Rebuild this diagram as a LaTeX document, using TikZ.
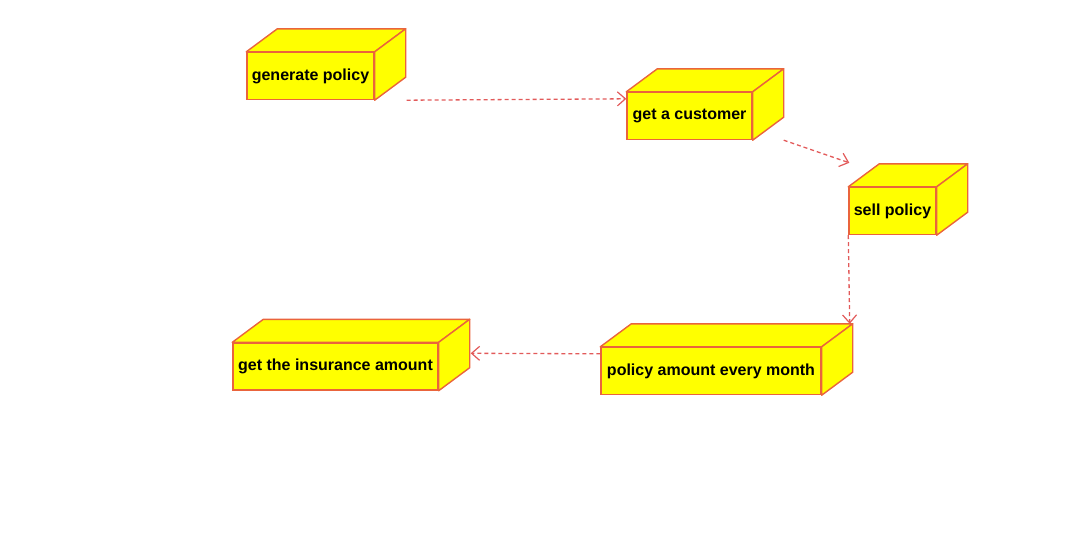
\documentclass[tikz,border=0pt]{standalone}
\usepackage{fontspec}
\setmainfont{Liberation Sans}
\usetikzlibrary{calc,arrows.meta}
\definecolor{boxedge}{RGB}{234,100,60}
\definecolor{boxfill}{RGB}{255,255,0}
\definecolor{depline}{RGB}{226,90,90}

\begin{document}
\begin{tikzpicture}[x=1pt,y=-1pt,
    device/.style={draw=boxedge,fill=boxfill,line width=1.4pt,inner sep=0pt,
        minimum height=47pt,font=\fontsize{16}{19}\selectfont\bfseries},
    face/.style={draw=boxedge,fill=boxfill,line width=1.4pt,line join=round},
    dep/.style={draw=depline,line width=1.3pt,dash pattern=on 4pt off 3pt,
        -{Straight Barb[length=8pt,width=14pt,line width=1.2pt]}}]
    \useasboundingbox (0,0) rectangle (1080,546);
    \node[device,minimum width=127pt](gp) at (310.5,76)  {generate policy};
    \node[device,minimum width=125pt](gc) at (689.5,116)  {get a customer};
    \node[device,minimum width=87pt](sp) at (892.5,211)  {sell policy};
    \node[device,minimum width=220pt](pa) at (711,371)  {policy amount every month};
    \node[device,minimum width=205pt](gi) at (335.5,366.5)  {get the insurance amount};
    \foreach \n in {gp,gc,sp,pa,gi} {
        \path[face] (\n.north west) -- ($(\n.north west)+(31,-23)$) -- ($(\n.north east)+(31,-23)$) -- (\n.north east) -- cycle;
        \path[face] (\n.north east) -- ($(\n.north east)+(31,-23)$) -- ($(\n.south east)+(31,-23)$) -- (\n.south east) -- cycle;
    }
    \draw[dep] ($(gp.south east)+(32,0)$) to ($(gc.north west)+(0,7)$);
    \draw[dep] ($(gc.south east)+(31,0)$) to ($(sp.north west)+(1,-24)$);
    \draw[dep] (sp.south west) to ($(pa.north east)+(28,-23)$);
    \draw[dep] ($(pa.north west)+(0,7)$) to ($(gi.north east)+(32,11)$);
\end{tikzpicture}
\end{document}
